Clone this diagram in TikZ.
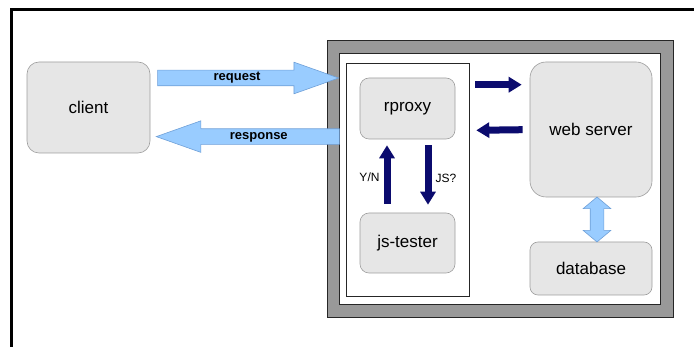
\documentclass[tikz,border=0pt]{standalone}
\usepackage{fontspec}
\setmainfont{Liberation Sans}
\usetikzlibrary{calc,shapes.arrows,arrows.meta,positioning}
\definecolor{boxgray}{HTML}{E6E6E6}
\definecolor{edgegray}{HTML}{9E9E9E}
\definecolor{bandgray}{HTML}{999999}
\definecolor{pipeblue}{HTML}{99CCFF}
\definecolor{pipeedge}{HTML}{6FA0D8}
\definecolor{flownavy}{HTML}{0B0B6E}

\begin{document}
\begin{tikzpicture}[x=1pt,y=-1pt]

% --- STYLES ---
\tikzset{
  component/.style={rectangle, rounded corners=12pt, draw=edgegray, fill=boxgray,
                    line width=0.6pt, font=\fontsize{17}{19}\selectfont, inner sep=0pt},
  hostbox/.style={rectangle, draw=black!85, line width=0.8pt, inner sep=0pt},
  pipe/.style={single arrow, draw=pipeedge, fill=pipeblue, line width=0.6pt,
               font=\fontsize{13}{15}\selectfont\bfseries,
               text height=7.5pt, text depth=2.5pt, inner xsep=0pt, inner ysep=2.5pt,
               single arrow head extend=8pt, single arrow tip angle=39},
  flow/.style={flownavy, line width=7pt, -{Triangle[length=13pt,width=15pt]}},
  flowlabel/.style={text=black, font=\fontsize{12}{14}\selectfont, inner sep=1pt},
}

\useasboundingbox (0,0) rectangle (694,347);

% ================= PAGE FRAME =================
\draw[line width=3pt] (11.5,347) -- (11.5,9.5) -- (694,9.5);

% ================= SERVER HOST =================
\node[hostbox, fill=bandgray, minimum width=346, minimum height=277] (host) at (500,178.5) {};
\node[hostbox, fill=white, minimum width=321, minimum height=251] (hostin) at (499.5,178.5) {};
\node[hostbox, minimum width=123, minimum height=233] (front) at (407.5,179.5) {};

% ================= COMPONENTS =================
\node[component, minimum width=123, minimum height=91] (client) at (88.5,107.5) {client};
\node[component, minimum width=95, minimum height=61, rounded corners=9pt] (rproxy) at (407.5,108.5) {rproxy};
\node[component, minimum width=95, minimum height=60, rounded corners=9pt] (tester) at (407.5,243) {js-tester};
\node[component, minimum width=122, minimum height=135, rounded corners=16pt] (web) at (591,129.5) {web server};
\node[component, minimum width=122, minimum height=53, rounded corners=8pt] (db) at (591,268.5) {database};

% ================= REQUEST / RESPONSE =================
\node[pipe, minimum height=181, anchor=tail] (request) at ([shift={(7,-29.5)}]client.east) {request};
\node[pipe, minimum height=183, shape border rotate=180, anchor=tail] (response) at ([shift={(13,97)}]host.north west) {response};

% --- web server <-> database ---
\node[double arrow, draw=pipeedge, fill=pipeblue, line width=0.6pt, shape border rotate=90,
      minimum height=45, inner sep=6.5pt, double arrow head extend=7pt,
      double arrow tip angle=100] (dblink) at ([xshift=6pt]$(web.south)!0.5!(db.north)$) {};

% ================= INTERNAL FLOWS =================
\draw[flow] ([shift={(20,7)}]rproxy.north east) -- ([shift={(-8,23)}]web.north west);
\draw[flow] ([shift={(-7,68)}]web.north west) -- ([shift={(21,-9)}]rproxy.south east);
\draw[flow] ([shift={(-20.5,-9)}]tester.north) -- node[flowlabel, pos=0.45, left=3pt] {Y/N} ([shift={(-20.5,6)}]rproxy.south);
\draw[flow] ([shift={(20.5,6)}]rproxy.south) -- node[flowlabel, pos=0.55, right=3pt] {JS?} ([shift={(20.5,-8)}]tester.north);

\end{tikzpicture}
\end{document}
